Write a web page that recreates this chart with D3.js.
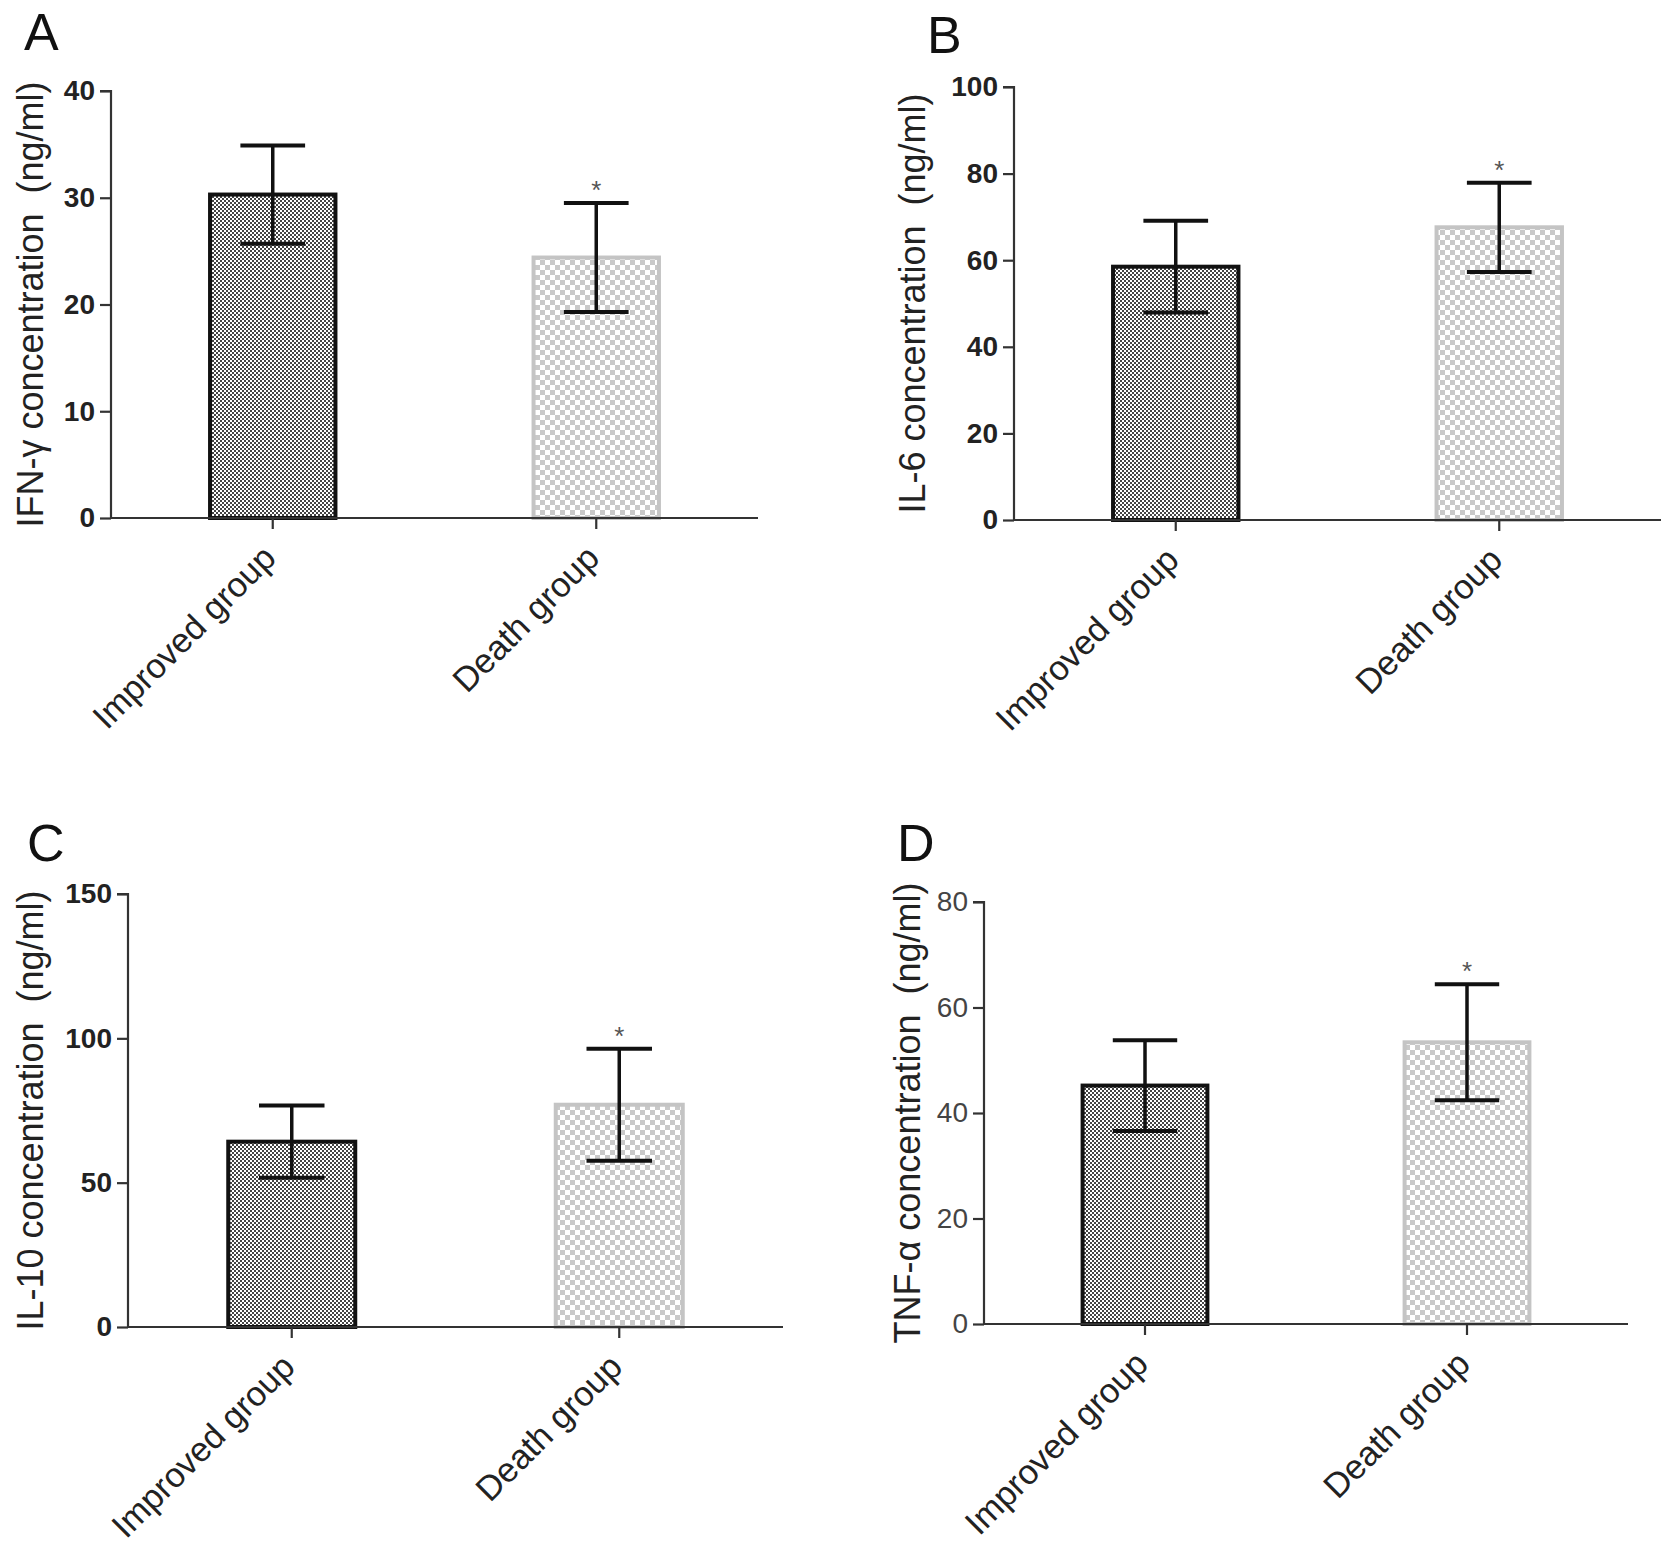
<!DOCTYPE html>
<html>
<head>
<meta charset="utf-8">
<script src="https://cdn.jsdelivr.net/npm/d3@7"></script>
<style>
  html, body { margin: 0; padding: 0; background: #fff; }
  svg { display: block; }
  text { font-family: "Liberation Sans", Arial, Helvetica, sans-serif; }
</style>
</head>
<body>
<svg id="chart" width="1677" height="1550"></svg>
<script>
// ---------------- data ----------------
const categories = ["Improved group", "Death group"];
const panelLetters = ["A", "B", "C", "D"];
const yTitles = [
  "IFN-\u03b3 concentration  (ng/ml)",
  "IL-6 concentration  (ng/ml)",
  "IL-10 concentration  (ng/ml)",
  "TNF-\u03b1 concentration  (ng/ml)"
];
const ifnMean = [30.3, 24.4];
const ifnErr  = [4.6, 5.1];
const il6Mean = [58.5, 67.6];
const il6Err  = [10.6, 10.3];
const il10Mean = [64.2, 77.0];
const il10Err  = [12.5, 19.4];
const tnfMean = [45.2, 53.4];
const tnfErr  = [8.6, 11.0];
const yMaxes = [40, 100, 150, 80];
const yTicksA = [0, 10, 20, 30, 40];
const yTicksB = [0, 20, 40, 60, 80, 100];
const yTicksC = [0, 50, 100, 150];
const yTicksD = [0, 20, 40, 60, 80];
const significant = ["", "*"];

// ---------------- layout ----------------
const layout = [
  { x0: 111, x1: 758,  yTop: 91,  yBot: 518,  lx: 24,  ly: 50,  tx: 30,  boldTicks: true },
  { x0: 1014, x1: 1661, yTop: 87, yBot: 520,  lx: 927, ly: 53,  tx: 912, boldTicks: true },
  { x0: 128, x1: 783,  yTop: 894, yBot: 1327, lx: 27,  ly: 861, tx: 30,  boldTicks: true },
  { x0: 984, x1: 1628, yTop: 902, yBot: 1324, lx: 897, ly: 861, tx: 907, boldTicks: false }
];
const means = [ifnMean, il6Mean, il10Mean, tnfMean];
const errs = [ifnErr, il6Err, il10Err, tnfErr];
const ticks = [yTicksA, yTicksB, yTicksC, yTicksD];

const svg = d3.select("#chart");
const defs = svg.append("defs");

// fine dotted pattern (dark bars)
const p1 = defs.append("pattern").attr("id", "darkPat")
  .attr("patternUnits", "userSpaceOnUse").attr("width", 4).attr("height", 4);
p1.append("rect").attr("width", 4).attr("height", 4).attr("fill", "#ffffff");
p1.append("rect").attr("x", 0).attr("y", 0).attr("width", 2).attr("height", 2).attr("fill", "#444444");
p1.append("rect").attr("x", 2).attr("y", 2).attr("width", 2).attr("height", 2).attr("fill", "#444444");

// coarse checker pattern (light bars)
const p2 = defs.append("pattern").attr("id", "lightPat")
  .attr("patternUnits", "userSpaceOnUse").attr("width", 10).attr("height", 10);
p2.append("rect").attr("width", 10).attr("height", 10).attr("fill", "#ffffff");
p2.append("rect").attr("x", 0).attr("y", 0).attr("width", 5).attr("height", 5).attr("fill", "#c9c9c9");
p2.append("rect").attr("x", 5).attr("y", 5).attr("width", 5).attr("height", 5).attr("fill", "#c9c9c9");

const barFill = ["url(#darkPat)", "url(#lightPat)"];
const barStroke = ["#111111", "#c4c4c4"];

layout.forEach((L, i) => {
  const g = svg.append("g");
  const x = d3.scaleBand().domain(categories).range([L.x0, L.x1])
    .paddingInner(0.6).paddingOuter(0.3);
  const y = d3.scaleLinear().domain([0, yMaxes[i]]).range([L.yBot, L.yTop]);

  const data = categories.map((c, k) => ({ c, k, m: means[i][k], e: errs[i][k] }));

  // bars
  g.selectAll("rect.bar").data(data).enter().append("rect")
    .attr("class", "bar")
    .attr("x", d => x(d.c) + 2)
    .attr("width", x.bandwidth() - 4)
    .attr("y", d => y(d.m))
    .attr("height", d => y(0) - y(d.m))
    .attr("fill", d => barFill[d.k])
    .attr("stroke", d => barStroke[d.k])
    .attr("stroke-width", 4);

  // error bars
  const capW = x.bandwidth() * 0.5;
  const eb = g.selectAll("g.err").data(data).enter().append("g").attr("class", "err");
  eb.append("line")
    .attr("x1", d => x(d.c) + x.bandwidth() / 2).attr("x2", d => x(d.c) + x.bandwidth() / 2)
    .attr("y1", d => y(d.m + d.e)).attr("y2", d => y(d.m - d.e))
    .attr("stroke", "#111").attr("stroke-width", 3.5);
  eb.append("line")
    .attr("x1", d => x(d.c) + x.bandwidth() / 2 - capW / 2).attr("x2", d => x(d.c) + x.bandwidth() / 2 + capW / 2)
    .attr("y1", d => y(d.m + d.e)).attr("y2", d => y(d.m + d.e))
    .attr("stroke", "#111").attr("stroke-width", 4);
  eb.append("line")
    .attr("x1", d => x(d.c) + x.bandwidth() / 2 - capW / 2).attr("x2", d => x(d.c) + x.bandwidth() / 2 + capW / 2)
    .attr("y1", d => y(d.m - d.e)).attr("y2", d => y(d.m - d.e))
    .attr("stroke", "#111").attr("stroke-width", 4);

  // significance markers
  g.selectAll("text.sig").data(data.filter(d => significant[d.k])).enter().append("text")
    .attr("class", "sig")
    .attr("x", d => x(d.c) + x.bandwidth() / 2)
    .attr("y", d => y(d.m + d.e) - 4)
    .attr("text-anchor", "middle")
    .attr("font-size", 26)
    .attr("fill", "#555")
    .text(d => significant[d.k]);

  // y axis
  const yAxis = d3.axisLeft(y).tickValues(ticks[i]).tickSize(11).tickPadding(5).tickFormat(d3.format("d"));
  const ya = g.append("g").attr("transform", `translate(${L.x0},0)`).call(yAxis);
  ya.select(".domain").attr("stroke", "#333").attr("stroke-width", 2.2).attr("d", `M${-11},${L.yTop}H0V${L.yBot}`);
  ya.selectAll(".tick line").attr("stroke", "#333").attr("stroke-width", 2.2);
  ya.selectAll(".tick text")
    .attr("font-size", 28)
    .attr("font-weight", L.boldTicks ? "bold" : "normal")
    .attr("fill", L.boldTicks ? "#222" : "#444")
    .attr("font-family", "Liberation Sans, Arial, sans-serif");

  // x axis
  const xAxis = d3.axisBottom(x).tickSize(11).tickFormat("");
  const xa = g.append("g").attr("transform", `translate(0,${L.yBot})`).call(xAxis);
  xa.select(".domain").attr("stroke", "#333").attr("stroke-width", 2.2).attr("d", `M${L.x0},0H${L.x1}`);
  xa.selectAll(".tick line").attr("stroke", "#333").attr("stroke-width", 2.2);

  // x category labels rotated
  g.selectAll("text.cat").data(categories).enter().append("text")
    .attr("class", "cat")
    .attr("transform", d => `translate(${x(d) + x.bandwidth() / 2 + 5},${L.yBot + 42}) rotate(-45)`)
    .attr("text-anchor", "end")
    .attr("font-size", 34.5)
    .attr("fill", "#222")
    .text(d => d);

  // y title
  g.append("text")
    .attr("transform", `translate(${L.tx},${(L.yTop + L.yBot) / 2}) rotate(-90)`)
    .attr("text-anchor", "middle")
    .attr("dy", "0.35em")
    .attr("font-size", 36)
    .attr("fill", "#222")
    .style("white-space", "pre")
    .text(yTitles[i]);

  // panel letter
  g.append("text")
    .attr("x", L.lx).attr("y", L.ly)
    .attr("font-size", 52)
    .attr("fill", "#111")
    .text(panelLetters[i]);
});
</script>
</body>
</html>
